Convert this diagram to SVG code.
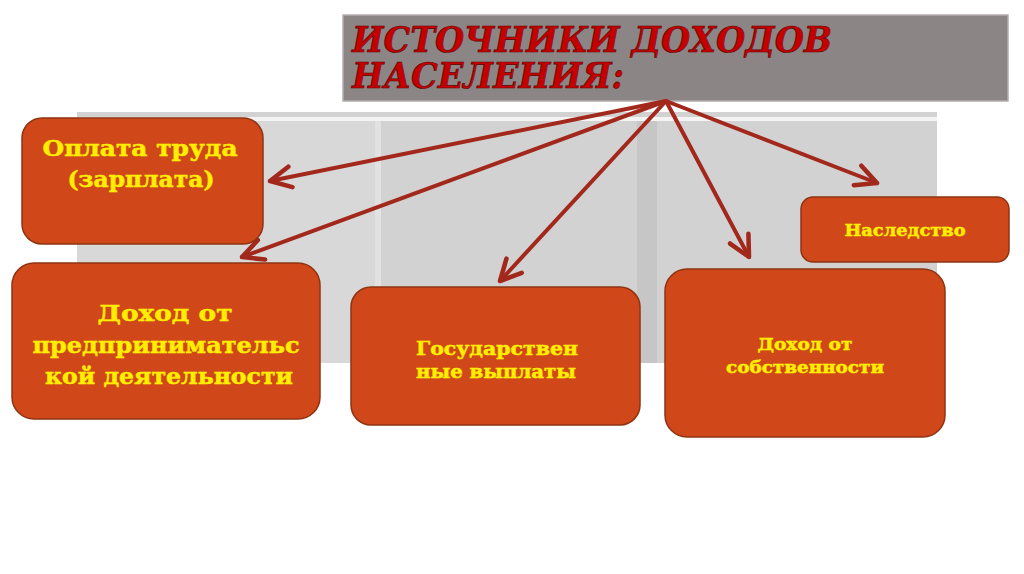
<svg xmlns="http://www.w3.org/2000/svg" width="1024" height="574" viewBox="0 0 1024 574">
<defs>
<marker id="ah" viewBox="0 0 20 20" refX="18" refY="10" markerWidth="6.5" markerHeight="6.5" orient="auto" markerUnits="strokeWidth">
<path d="M2,2 L18,10 L2,18" fill="none" stroke="#a3281c" stroke-width="3.5" stroke-linecap="round" stroke-linejoin="round"/>
</marker>
<style>
.box{fill:#d0481a;stroke:#8e3412;stroke-width:1.5}
.t{font-family:"DejaVu Serif","Liberation Serif",serif;font-weight:bold;fill:#ffee00;stroke:#ffee00;stroke-width:0.5;text-anchor:middle}
.title{font-family:"DejaVu Serif","Liberation Serif",serif;font-weight:bold;font-style:italic;fill:#c40000;stroke:#5a0000;stroke-width:0.6}
.arr{stroke:#a3281c;stroke-width:4;fill:none;stroke-linecap:round;marker-end:url(#ah)}
</style>
</defs>
<rect width="1024" height="574" fill="#ffffff"/>
<g id="panel">
<rect x="77" y="112" width="860" height="251" fill="#d2d2d2"/>
<rect x="77" y="117" width="860" height="4" fill="#f4f4f4"/>
<rect x="77" y="121" width="298" height="242" fill="#d8d8d8"/>
<rect x="375" y="121" width="6" height="242" fill="#e2e2e2"/>
<rect x="637" y="121" width="20" height="242" fill="#c6c6c6"/>
</g>
<g id="title">
<rect x="343" y="15" width="665" height="86" fill="#8c8585" stroke="#b3adad" stroke-width="1.5"/>
<text class="title" x="352" y="52" font-size="35" textLength="480" lengthAdjust="spacingAndGlyphs">ИСТОЧНИКИ ДОХОДОВ</text>
<text class="title" x="352" y="88" font-size="35" textLength="272" lengthAdjust="spacingAndGlyphs">НАСЕЛЕНИЯ:</text>
</g>
<g id="connectors">
<line class="arr" x1="666" y1="101" x2="270" y2="181"/>
<line class="arr" x1="666" y1="101" x2="242" y2="257"/>
<line class="arr" x1="666" y1="101" x2="500" y2="281"/>
<line class="arr" x1="666" y1="101" x2="749" y2="257"/>
<line class="arr" x1="666" y1="101" x2="877" y2="183"/>
</g>
<g id="n1">
<rect class="box" x="22" y="118" width="241" height="126" rx="20"/>
<text class="t" x="140" y="156" font-size="22" textLength="195" lengthAdjust="spacingAndGlyphs">Оплата труда</text>
<text class="t" x="141" y="187" font-size="22" textLength="147" lengthAdjust="spacingAndGlyphs">(зарплата)</text>
</g>
<g id="n2">
<rect class="box" x="12" y="263" width="308" height="156" rx="22"/>
<text class="t" x="165" y="321" font-size="23" textLength="135" lengthAdjust="spacingAndGlyphs">Доход от</text>
<text class="t" x="166" y="353" font-size="23" textLength="267" lengthAdjust="spacingAndGlyphs">предпринимательс</text>
<text class="t" x="169" y="384" font-size="23" textLength="248" lengthAdjust="spacingAndGlyphs">кой деятельности</text>
</g>
<g id="n3">
<rect class="box" x="351" y="287" width="289" height="138" rx="20"/>
<text class="t" x="497" y="355" font-size="18" textLength="162" lengthAdjust="spacingAndGlyphs">Государствен</text>
<text class="t" x="496" y="378" font-size="18" textLength="160" lengthAdjust="spacingAndGlyphs">ные выплаты</text>
</g>
<g id="n4">
<rect class="box" x="801" y="197" width="208" height="65" rx="12"/>
<text class="t" x="905" y="236" font-size="16" textLength="121" lengthAdjust="spacingAndGlyphs">Наследство</text>
</g>
<g id="n5">
<rect class="box" x="665" y="269" width="280" height="168" rx="22"/>
<text class="t" x="805" y="350" font-size="16" textLength="95" lengthAdjust="spacingAndGlyphs">Доход от</text>
<text class="t" x="805" y="373" font-size="16" textLength="158" lengthAdjust="spacingAndGlyphs">собственности</text>
</g>
</svg>
